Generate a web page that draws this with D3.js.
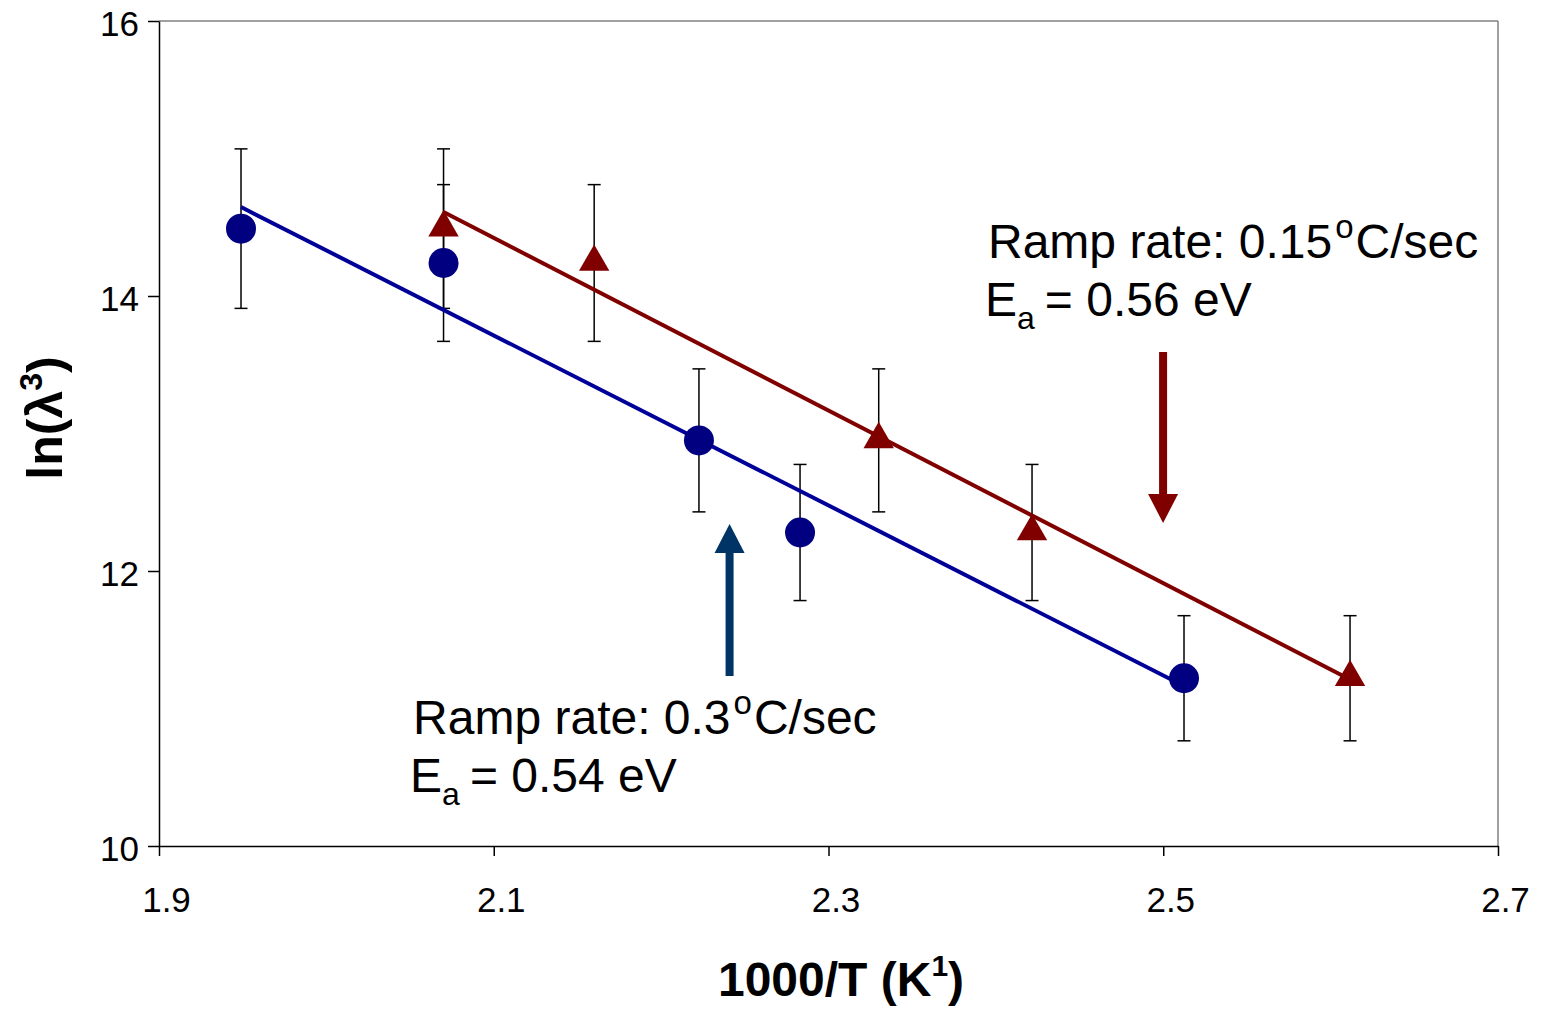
<!DOCTYPE html>
<html>
<head>
<meta charset="utf-8">
<script src="https://cdn.jsdelivr.net/npm/d3@7"></script>
<style>
  body { margin: 0; background: #fff; }
  text { font-family: Arial, "Liberation Sans", sans-serif; }
</style>
</head>
<body>
<svg id="chart" width="1545" height="1010"></svg>
<script>
// ramp rate 0.3 C/sec (circles)
const fastX = [1.949, 2.070, 2.2226, 2.283, 2.5124];
const fastY = [14.49, 14.24, 12.95, 12.28, 11.22];
const fastErr = [0.58, 0.57, 0.52, 0.495, 0.455];
const fastFit = [[1.949, 14.647], [2.5124, 11.164]];

// ramp rate 0.15 C/sec (triangles)
const slowX = [2.070, 2.160, 2.330, 2.4216, 2.6116];
const slowY = [14.49, 14.24, 12.95, 12.28, 11.22];
const slowErr = [0.58, 0.57, 0.52, 0.495, 0.455];
const slowFit = [[2.070, 14.611], [2.6116, 11.211]];

const xTicks = [1.9, 2.1, 2.3, 2.5, 2.7];
const yTicks = [10, 12, 14, 16];

const svg = d3.select('#chart'),
    mLeft = 159, mTop = 21, w = 1339, h = 825;

const x = d3.scaleLinear().domain([1.9, 2.7]).range([mLeft, mLeft + w]);
const y = d3.scaleLinear().domain([10, 16]).range([mTop + h, mTop]);

// frame: top/right grey, left/bottom black
svg.append('line').attr('x1', mLeft).attr('x2', mLeft + w).attr('y1', mTop).attr('y2', mTop)
    .attr('stroke', '#808080').attr('stroke-width', 1.5);
svg.append('line').attr('x1', mLeft + w).attr('x2', mLeft + w).attr('y1', mTop).attr('y2', mTop + h)
    .attr('stroke', '#808080').attr('stroke-width', 1.5);

const yAxis = svg.append('g')
    .attr('transform', `translate(${mLeft},0)`)
    .call(d3.axisLeft(y).tickValues(yTicks).tickFormat(d3.format('d')).tickSize(11).tickSizeOuter(0).tickPadding(9));
yAxis.selectAll('text').attr('font-size', 35).attr('dy', '0.42em').attr('fill', '#000');

const xAxis = svg.append('g')
    .attr('transform', `translate(0,${mTop + h})`)
    .call(d3.axisBottom(x).tickValues(xTicks).tickFormat(d3.format('.1f')).tickSize(10).tickSizeOuter(0).tickPadding(31));
xAxis.selectAll('text').attr('font-size', 35).attr('dx', 7).attr('fill', '#000');

[yAxis, xAxis].forEach(a => {
    a.select('.domain').attr('stroke', '#000').attr('stroke-width', 1.5);
    a.selectAll('.tick line').attr('stroke', '#000').attr('stroke-width', 1.5);
});

// axis titles
svg.append('text')
    .attr('x', 841).attr('y', 996)
    .attr('text-anchor', 'middle').attr('font-size', 48).attr('font-weight', 'bold')
    .html('1000/T (K<tspan font-size="30" dy="-20">1</tspan><tspan dy="20">)</tspan>');

svg.append('text')
    .attr('transform', 'translate(62,418) rotate(-90)')
    .attr('text-anchor', 'middle').attr('font-size', 50).attr('font-weight', 'bold')
    .html('ln(λ<tspan font-size="32" dy="-20">3</tspan><tspan dy="20">)</tspan>');

// error bars
function errorBars(xs, ys, es) {
    const g = svg.append('g').attr('stroke', '#000').attr('stroke-width', 1.5);
    xs.forEach((xv, i) => {
        const cx = x(xv), y1 = y(ys[i] + es[i]), y2 = y(ys[i] - es[i]);
        g.append('line').attr('x1', cx).attr('x2', cx).attr('y1', y1).attr('y2', y2);
        g.append('line').attr('x1', cx - 6.5).attr('x2', cx + 6.5).attr('y1', y1).attr('y2', y1);
        g.append('line').attr('x1', cx - 6.5).attr('x2', cx + 6.5).attr('y1', y2).attr('y2', y2);
    });
}
errorBars(fastX, fastY, fastErr);
errorBars(slowX, slowY, slowErr);

// fit lines
const line = d3.line().x(d => x(d[0])).y(d => y(d[1]));
svg.append('path').attr('d', line(fastFit)).attr('stroke', '#000099').attr('stroke-width', 4).attr('fill', 'none');
svg.append('path').attr('d', line(slowFit)).attr('stroke', '#800000').attr('stroke-width', 4).attr('fill', 'none');

// markers
svg.append('g').selectAll('circle')
    .data(fastX)
    .enter()
    .append('circle')
    .attr('cx', d => x(d))
    .attr('cy', (d, i) => y(fastY[i]))
    .attr('r', 15)
    .attr('fill', '#000080');

const tri = d3.symbol().type(d3.symbolTriangle).size(400);
svg.append('g').selectAll('path')
    .data(slowX)
    .enter()
    .append('path')
    .attr('d', tri)
    .attr('transform', (d, i) => `translate(${x(d)},${y(slowY[i]) - 1})`)
    .attr('fill', '#800000');

// arrows
function arrow(xv, yFrom, yTo, color) {
    const cx = x(xv), y0 = y(yFrom), y1 = y(yTo);
    const dir = y1 > y0 ? 1 : -1, head = 29;
    svg.append('line').attr('x1', cx).attr('x2', cx).attr('y1', y0).attr('y2', y1 - dir * head + dir * 2)
        .attr('stroke', color).attr('stroke-width', 8);
    svg.append('path')
        .attr('d', `M${cx - 15},${y1 - dir * head}L${cx + 15},${y1 - dir * head}L${cx},${y1}Z`)
        .attr('fill', color);
}
arrow(2.4999, 13.593, 12.349, '#800000');
arrow(2.2409, 11.236, 12.342, '#003366');

// annotations
function note(xv, yv, rate, ea) {
    const t = svg.append('g').attr('transform', `translate(${x(xv)},${y(yv)})`);
    t.append('text').attr('font-size', 48)
        .html(`Ramp rate: ${rate}<tspan font-size="33" dx="3" dy="-20">o</tspan><tspan dx="2" dy="20">C/sec</tspan>`);
    t.append('text').attr('y', 58).attr('x', -3).attr('font-size', 48)
        .html(`E<tspan font-size="32" dy="13">a</tspan><tspan dx="10" dy="-13">= ${ea} eV</tspan>`);
}
note(2.3953, 14.276, '0.15', '0.56');
note(2.0518, 10.815, '0.3', '0.54');
</script>
</body>
</html>
